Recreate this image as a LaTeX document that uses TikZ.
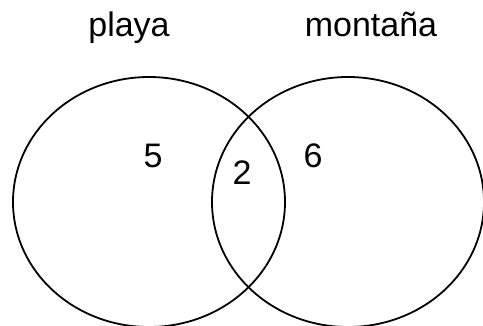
\documentclass[tikz,border=0pt]{standalone}
\usepackage{fontspec}
\setmainfont{Liberation Sans}
\usetikzlibrary{shapes.geometric}

\begin{document}
\begin{tikzpicture}[x = 1pt, y = -1pt, every node/.style = {font = \fontsize{34}{40}\selectfont, inner sep = 0pt}]
    \useasboundingbox (0,0) rectangle (483,325);
    \clip (0,0) rectangle (483,325);
    \node[draw, ellipse, line width = 1.8pt, minimum width = 272pt, minimum height = 250pt] (playa) at (149,202) {};
    \node[draw, ellipse, line width = 1.8pt, minimum width = 272pt, minimum height = 250pt] (montana) at (348,202) {};
    \node[anchor = base] (P) at (129,36) {playa};
    \node[anchor = base] (M) at (371,36) {montaña};
    \node[anchor = base] (A) at (153,167) {5};
    \node[anchor = base] (B) at (242,184) {2};
    \node[anchor = base] (C) at (313,167) {6};
\end{tikzpicture}
\end{document}
